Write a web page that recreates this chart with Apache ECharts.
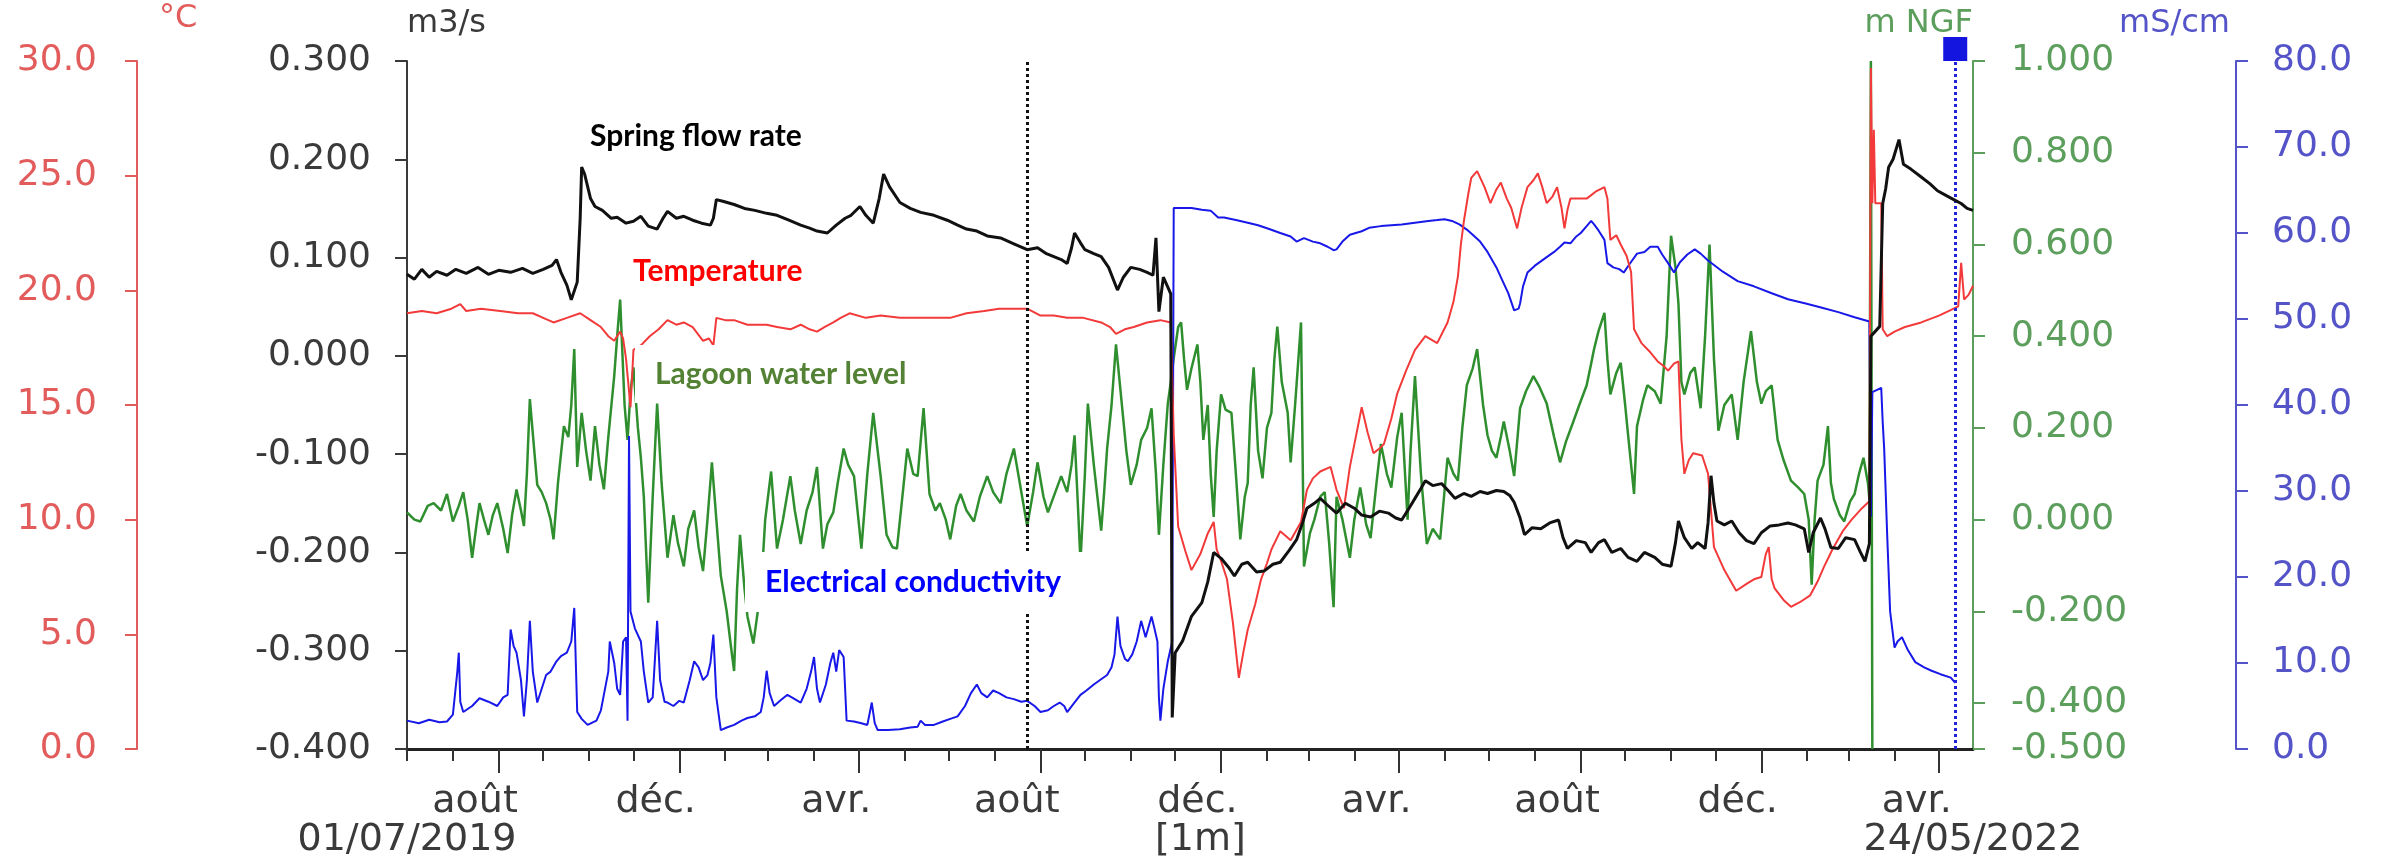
<!DOCTYPE html>
<html><head><meta charset="utf-8">
<script src="https://cdn.jsdelivr.net/npm/echarts@6/dist/echarts.min.js"></script>
<style>html,body{margin:0;padding:0;background:#fff}#c{width:2384px;height:859px}</style>
</head><body><div id="c"></div>
<script>
// x = days since 01/07/2019 (last day 24/05/2022)
const startUTC = Date.UTC(2019, 6, 1);
const endUTC = Date.UTC(2022, 4, 24);
const monthLabels = {8: 'août', 12: 'déc.', 4: 'avr.'};
const edgeLabels = {first: '01/07/2019', middle: '[1m]', last: '24/05/2022'};
const middleLabelDay = 536;
const levelTicks = [-0.5, -0.4, -0.2, 0, 0.2, 0.4, 0.6, 0.8, 1.0];
const dottedBlackDay = 419;
const dottedBlueDay = 1046;

// Spring flow rate (m3/s)
const flow = [[0,0.083],[5,0.078],[10,0.088],[15,0.080],[20,0.086],[27,0.082],[33,0.088],[40,0.084],[48,0.090],[55,0.083],[62,0.087],[70,0.085],[78,0.089],[85,0.084],[92,0.088],[98,0.092],[101,0.098],[104,0.085],[108,0.072],[111,0.057],[115,0.075],[117,0.140],[118,0.192],[120,0.185],[124,0.160],[127,0.152],[132,0.148],[138,0.140],[142,0.141],[148,0.135],[153,0.137],[158,0.142],[163,0.132],[169,0.129],[173,0.140],[176,0.147],[182,0.140],[187,0.142],[193,0.138],[199,0.135],[205,0.133],[207,0.140],[209,0.159],[214,0.157],[221,0.154],[228,0.150],[235,0.148],[243,0.145],[250,0.143],[258,0.138],[266,0.133],[272,0.130],[277,0.127],[284,0.125],[290,0.133],[296,0.140],[300,0.143],[306,0.152],[310,0.143],[315,0.135],[319,0.160],[322,0.185],[326,0.172],[333,0.156],[340,0.150],[347,0.146],[356,0.143],[365,0.138],[372,0.133],[378,0.129],[385,0.127],[392,0.122],[401,0.120],[410,0.114],[419,0.108],[426,0.110],[432,0.104],[437,0.101],[442,0.098],[446,0.094],[449,0.110],[451,0.125],[455,0.115],[458,0.108],[464,0.104],[469,0.101],[474,0.090],[480,0.067],[484,0.080],[489,0.090],[495,0.088],[500,0.085],[504,0.082],[506,0.120],[508,0.045],[511,0.080],[514,0.070],[516,0.063],[517,-0.368],[519,-0.302],[524,-0.290],[530,-0.265],[537,-0.251],[541,-0.230],[545,-0.200],[550,-0.206],[555,-0.215],[559,-0.224],[564,-0.212],[568,-0.210],[574,-0.220],[579,-0.219],[585,-0.212],[590,-0.210],[596,-0.198],[601,-0.187],[605,-0.170],[608,-0.155],[613,-0.150],[617,-0.145],[622,-0.152],[628,-0.160],[634,-0.150],[640,-0.155],[645,-0.162],[651,-0.164],[657,-0.158],[663,-0.160],[668,-0.165],[672,-0.167],[677,-0.155],[681,-0.145],[685,-0.135],[688,-0.127],[693,-0.132],[699,-0.130],[704,-0.138],[708,-0.145],[714,-0.140],[719,-0.143],[725,-0.138],[730,-0.140],[736,-0.137],[741,-0.138],[745,-0.142],[748,-0.149],[752,-0.165],[755,-0.182],[760,-0.175],[766,-0.176],[772,-0.170],[778,-0.167],[781,-0.185],[784,-0.196],[790,-0.188],[796,-0.190],[800,-0.200],[805,-0.190],[809,-0.187],[814,-0.200],[820,-0.196],[825,-0.205],[831,-0.209],[836,-0.200],[843,-0.205],[848,-0.212],[854,-0.214],[857,-0.190],[859,-0.168],[863,-0.185],[868,-0.196],[872,-0.190],[877,-0.196],[879,-0.170],[881,-0.122],[883,-0.150],[885,-0.168],[890,-0.172],[895,-0.168],[900,-0.180],[905,-0.188],[910,-0.191],[915,-0.180],[921,-0.173],[927,-0.172],[933,-0.170],[938,-0.172],[944,-0.176],[947,-0.200],[950,-0.180],[955,-0.165],[958,-0.176],[962,-0.195],[967,-0.196],[972,-0.185],[978,-0.187],[982,-0.200],[985,-0.209],[988,-0.191],[989,0.020],[995,0.030],[997,0.155],[999,0.170],[1001,0.192],[1004,0.200],[1008,0.220],[1011,0.195],[1016,0.190],[1023,0.182],[1029,0.175],[1034,0.168],[1040,0.163],[1045,0.159],[1050,0.155],[1054,0.150],[1058,0.148]];

// Temperature (°C)
const temperature = [[0,19.0],[10,19.1],[20,19.0],[30,19.2],[36,19.4],[40,19.1],[50,19.2],[63,19.1],[75,19.0],[85,19.0],[92,18.8],[99,18.6],[108,18.8],[117,19.0],[124,18.7],[131,18.4],[136,18.0],[140,17.8],[144,18.2],[146,17.9],[148,17.0],[151,14.9],[153,17.4],[158,17.6],[164,18.0],[170,18.3],[176,18.7],[182,18.5],[187,18.6],[193,18.4],[200,17.8],[204,17.9],[207,17.6],[209,18.8],[215,18.7],[221,18.7],[230,18.5],[243,18.5],[250,18.4],[259,18.3],[266,18.5],[272,18.3],[277,18.2],[282,18.4],[288,18.6],[293,18.8],[299,19.0],[310,18.8],[320,18.9],[333,18.8],[345,18.8],[356,18.8],[367,18.8],[378,19.0],[390,19.1],[400,19.2],[410,19.2],[419,19.2],[428,18.9],[437,18.9],[446,18.8],[457,18.8],[469,18.6],[475,18.4],[479,18.1],[485,18.3],[491,18.4],[500,18.6],[509,18.7],[516,18.6],[518,13.7],[521,9.7],[526,8.6],[530,7.8],[536,8.5],[541,9.4],[545,9.9],[547,8.7],[550,8.2],[554,7.4],[558,5.5],[562,3.1],[565,4.2],[568,5.2],[573,6.3],[577,7.4],[581,8.1],[584,8.7],[590,9.5],[597,9.1],[604,9.9],[608,11.3],[612,11.8],[617,12.1],[624,12.3],[628,11.3],[633,10.5],[637,12.3],[641,13.6],[645,14.9],[649,13.8],[653,12.9],[657,13.1],[660,13.3],[665,14.4],[669,15.5],[675,16.5],[681,17.4],[688,18.0],[696,17.7],[703,18.6],[707,19.5],[710,20.6],[712,22.0],[714,23.0],[717,24.2],[719,24.9],[723,25.2],[728,24.5],[732,23.8],[736,24.4],[739,24.7],[743,24.0],[746,23.6],[750,22.7],[753,23.6],[757,24.5],[761,24.8],[764,25.1],[767,24.5],[770,23.8],[774,24.1],[777,24.5],[780,23.6],[782,22.7],[784,23.5],[786,24.0],[790,24.0],[797,24.0],[803,24.3],[809,24.5],[811,24.0],[813,22.2],[817,22.4],[820,22.0],[824,21.5],[827,20.8],[829,18.3],[834,17.7],[840,17.3],[845,16.9],[849,16.7],[852,16.5],[856,16.8],[859,16.9],[861,13.5],[863,12.0],[866,12.6],[869,12.9],[875,12.8],[879,12.0],[883,8.8],[890,7.8],[898,6.9],[905,7.2],[910,7.4],[915,7.5],[918,8.5],[920,8.8],[922,7.4],[924,7.0],[930,6.5],[935,6.2],[941,6.4],[948,6.7],[953,7.3],[957,7.9],[963,8.7],[970,9.5],[976,10.0],[983,10.5],[988,10.8],[989,29.7],[990,23.8],[991,27.0],[992,23.8],[996,23.8],[997,18.3],[1000,18.0],[1005,18.2],[1012,18.4],[1023,18.6],[1035,18.9],[1045,19.2],[1048,19.3],[1050,21.2],[1052,19.6],[1055,19.8],[1058,20.2]];

// Lagoon water level (m NGF)
const waterLevel = [[0,0.016],[5,0.000],[9,-0.004],[14,0.030],[18,0.036],[23,0.020],[27,0.056],[31,-0.004],[35,0.030],[38,0.060],[41,0.000],[44,-0.083],[47,-0.010],[49,0.036],[52,0.000],[55,-0.033],[58,0.010],[61,0.036],[65,-0.020],[68,-0.073],[71,0.010],[74,0.066],[77,0.020],[79,-0.014],[81,0.100],[83,0.263],[86,0.150],[88,0.076],[91,0.060],[94,0.036],[97,0.000],[99,-0.043],[102,0.080],[106,0.204],[109,0.180],[111,0.250],[113,0.372],[115,0.115],[118,0.233],[121,0.150],[124,0.085],[127,0.204],[130,0.120],[133,0.066],[136,0.180],[140,0.313],[142,0.400],[144,0.480],[147,0.250],[149,0.174],[151,0.280],[153,0.332],[156,0.200],[158,0.135],[160,0.050],[163,-0.181],[166,0.050],[169,0.253],[172,0.080],[176,-0.083],[180,0.010],[183,-0.050],[187,-0.102],[190,-0.020],[194,0.020],[197,-0.060],[200,-0.112],[203,0.000],[206,0.125],[209,0.000],[212,-0.122],[216,-0.200],[219,-0.280],[221,-0.330],[223,-0.150],[225,-0.033],[228,-0.150],[230,-0.211],[234,-0.270],[237,-0.200],[239,-0.162],[242,0.000],[246,0.105],[248,0.020],[250,-0.063],[254,0.000],[259,0.095],[262,0.020],[266,-0.053],[270,0.020],[274,0.060],[277,0.115],[281,-0.063],[284,-0.010],[288,0.016],[291,0.080],[295,0.155],[298,0.120],[302,0.095],[305,0.000],[307,-0.063],[311,0.100],[315,0.233],[318,0.150],[320,0.095],[324,-0.033],[328,-0.060],[331,-0.063],[335,0.060],[338,0.155],[342,0.100],[345,0.095],[349,0.243],[351,0.150],[353,0.056],[357,0.020],[360,0.036],[364,0.000],[367,-0.043],[371,0.030],[374,0.056],[378,0.020],[383,-0.004],[387,0.050],[392,0.095],[396,0.060],[401,0.036],[405,0.100],[410,0.155],[414,0.080],[419,-0.014],[423,0.060],[426,0.125],[430,0.050],[433,0.016],[438,0.060],[442,0.095],[446,0.060],[449,0.120],[451,0.184],[453,0.050],[455,-0.092],[458,0.100],[460,0.253],[464,0.120],[469,-0.024],[471,0.060],[473,0.155],[476,0.250],[479,0.382],[482,0.283],[486,0.150],[489,0.076],[493,0.120],[496,0.174],[500,0.200],[503,0.243],[506,0.100],[508,-0.033],[511,0.120],[514,0.253],[516,0.300],[518,0.352],[521,0.420],[523,0.430],[525,0.350],[527,0.283],[530,0.330],[534,0.382],[536,0.300],[538,0.174],[541,0.250],[543,0.100],[545,0.006],[547,0.150],[550,0.273],[553,0.240],[557,0.233],[560,0.100],[563,-0.043],[566,0.050],[568,0.080],[570,0.250],[572,0.332],[575,0.150],[578,0.090],[581,0.200],[584,0.233],[586,0.350],[588,0.421],[591,0.300],[595,0.233],[597,0.125],[600,0.250],[604,0.430],[606,-0.102],[610,-0.030],[613,0.000],[617,0.050],[620,0.060],[623,-0.050],[626,-0.191],[628,0.050],[632,0.000],[637,-0.083],[640,0.000],[644,0.070],[648,-0.010],[651,-0.040],[655,0.080],[658,0.165],[662,0.100],[665,0.070],[669,0.180],[672,0.233],[676,0.000],[678,0.150],[681,0.313],[685,0.100],[689,-0.053],[693,-0.020],[698,-0.043],[703,0.135],[707,0.100],[710,0.085],[713,0.200],[716,0.293],[720,0.330],[723,0.372],[727,0.250],[730,0.184],[733,0.150],[736,0.135],[739,0.180],[741,0.214],[745,0.150],[748,0.095],[752,0.243],[756,0.280],[761,0.313],[765,0.290],[770,0.253],[775,0.180],[779,0.125],[783,0.170],[788,0.214],[792,0.250],[797,0.293],[800,0.340],[802,0.372],[805,0.411],[809,0.451],[811,0.350],[813,0.273],[817,0.320],[820,0.342],[823,0.250],[825,0.184],[829,0.056],[831,0.204],[835,0.260],[838,0.293],[843,0.280],[847,0.253],[851,0.400],[854,0.619],[857,0.550],[859,0.471],[861,0.300],[863,0.273],[867,0.320],[870,0.332],[874,0.243],[877,0.400],[880,0.600],[883,0.350],[886,0.194],[890,0.250],[895,0.273],[899,0.174],[903,0.300],[908,0.411],[912,0.300],[915,0.253],[918,0.280],[922,0.293],[926,0.174],[930,0.130],[935,0.085],[940,0.070],[944,0.056],[947,0.000],[949,-0.142],[951,0.000],[953,0.085],[957,0.120],[960,0.204],[962,0.080],[964,0.045],[968,0.010],[971,-0.004],[975,0.040],[978,0.056],[981,0.100],[984,0.135],[987,0.080],[988,0.045],[989,1.000],[990,-0.500]];

// Electrical conductivity (mS/cm)
const conductivity = [[0,3.3],[8,3.0],[15,3.4],[22,3.1],[27,3.2],[31,4.0],[34,9.0],[35,11.2],[36,5.5],[38,4.3],[44,5.0],[49,5.9],[55,5.5],[61,5.0],[65,6.0],[68,6.3],[70,13.9],[72,12.0],[74,11.2],[77,8.0],[79,3.8],[81,8.0],[83,14.9],[85,9.0],[88,5.4],[91,7.0],[94,8.6],[97,9.0],[101,10.2],[104,10.8],[108,11.2],[111,12.5],[113,16.4],[115,4.3],[118,3.5],[122,2.8],[128,3.3],[131,4.5],[133,6.3],[136,9.0],[137,12.5],[140,10.0],[142,7.0],[144,6.3],[146,12.5],[148,13.0],[149,3.3],[150,36.4],[151,16.0],[154,14.0],[158,12.5],[160,9.0],[163,5.4],[166,6.0],[169,14.9],[171,8.0],[174,5.5],[176,5.4],[180,5.0],[184,5.6],[187,5.4],[191,8.0],[194,10.2],[197,9.5],[200,8.0],[203,8.6],[205,10.0],[207,13.3],[209,6.0],[212,2.2],[216,2.5],[221,2.8],[226,3.3],[230,3.6],[235,3.8],[239,4.3],[241,6.0],[243,9.1],[245,6.5],[248,5.0],[252,5.6],[257,6.3],[262,5.8],[266,5.4],[270,7.0],[273,9.0],[275,10.7],[277,7.0],[279,5.4],[283,7.5],[286,10.0],[288,11.2],[290,9.0],[292,11.5],[295,10.7],[297,3.3],[302,3.2],[307,3.0],[311,2.8],[313,4.5],[314,5.4],[316,3.0],[318,2.2],[325,2.2],[333,2.3],[340,2.5],[345,2.6],[347,3.3],[350,2.8],[356,2.8],[362,3.2],[367,3.5],[372,3.8],[377,5.0],[381,6.5],[385,7.5],[388,6.5],[392,6.0],[396,6.8],[400,6.5],[405,6.0],[410,5.8],[415,5.5],[419,5.6],[424,5.0],[428,4.3],[433,4.5],[437,5.0],[441,5.4],[444,5.0],[446,4.3],[450,5.2],[455,6.3],[459,6.8],[464,7.5],[468,8.0],[473,8.6],[476,9.5],[478,11.0],[480,15.4],[482,12.0],[485,10.5],[487,10.2],[490,11.0],[493,12.5],[496,14.9],[499,13.0],[503,15.4],[505,14.0],[507,12.5],[508,6.0],[509,3.3],[511,7.0],[514,10.2],[517,12.5],[518,62.9],[525,62.9],[530,62.9],[537,62.7],[543,62.6],[548,61.8],[552,61.8],[560,61.5],[568,61.2],[575,60.9],[582,60.5],[590,60.0],[597,59.6],[601,59.0],[606,59.4],[612,59.0],[617,58.8],[622,58.4],[626,58.0],[628,58.1],[632,59.0],[637,59.8],[645,60.2],[650,60.6],[658,60.8],[665,60.9],[672,61.0],[681,61.2],[690,61.4],[696,61.5],[701,61.6],[706,61.4],[711,61.0],[716,60.4],[720,59.8],[725,59.0],[730,57.8],[736,56.0],[740,54.5],[744,53.0],[748,51.0],[751,51.2],[752,51.8],[754,53.8],[757,55.4],[762,56.2],[766,56.7],[770,57.2],[775,57.8],[779,58.4],[782,58.9],[786,58.8],[790,59.6],[793,60.0],[797,60.8],[800,61.4],[802,61.0],[805,60.3],[809,59.2],[811,56.5],[815,56.0],[819,55.8],[822,55.4],[826,56.4],[831,57.6],[836,57.8],[840,58.4],[845,58.4],[848,57.5],[852,56.5],[856,55.4],[860,56.6],[865,57.5],[870,58.1],[874,57.6],[879,56.8],[889,55.5],[899,54.4],[910,53.8],[922,53.0],[933,52.3],[945,51.8],[956,51.3],[967,50.8],[978,50.2],[988,49.7],[989,27.0],[990,41.5],[996,42.0],[997,38.0],[998,34.9],[1000,25.0],[1002,16.0],[1005,11.8],[1007,12.5],[1010,13.0],[1014,11.5],[1019,10.1],[1025,9.5],[1030,9.1],[1036,8.7],[1043,8.3],[1046,7.7]];

const nDays = Math.round((endUTC - startUTC) / 86400000) + 1;
const days = [];
for (let i = 0; i < nDays; i++) days.push(new Date(startUTC + i * 86400000).toISOString().slice(0, 10));

const FONT = 'DejaVu Sans';
const C_FLOW = '#111111', C_TEMP = '#f23a3a', C_LEVEL = '#2f8f2f', C_EC = '#1818e8';
const A_FLOW = '#3a3a3a', A_TEMP = '#e25c5c', A_LEVEL = '#5c9e5c', A_EC = '#5454c8';

function yAx(o) {
  return Object.assign({
    type: 'value', splitLine: {show: false},
    nameLocation: 'end',
    axisLine: {show: true, onZero: false, lineStyle: {color: o.c, width: 2}},
    axisTick: {show: true, length: 12, lineStyle: {color: o.c, width: 2}},
    axisLabel: {color: o.c, fontFamily: FONT, fontSize: 36, margin: o.margin, formatter: o.fmt}
  }, o.extra);
}

const option = {
  animation: false,
  grid: {left: 407, right: 411, top: 61, bottom: 109},
  xAxis: [
    {type: 'value', min: 0, max: nDays - 1, position: 'bottom',
     axisLine: {show: true, onZero: false, lineStyle: {color: '#222', width: 3}},
     axisTick: {show: false}, axisLabel: {show: false}, splitLine: {show: false}},
    {type: 'category', data: days, boundaryGap: false, position: 'bottom',
     axisLine: {show: false, onZero: false},
     axisTick: {show: true, length: 12, lineStyle: {color: '#333', width: 2},
       interval: (i, v) => v.slice(8) === '01'},
     axisLabel: {margin: 34, color: '#3a3a3a', fontFamily: FONT, fontSize: 38,
       interval: (i, v) => v.slice(8) === '16' && !!monthLabels[+v.slice(5, 7)],
       formatter: v => monthLabels[+v.slice(5, 7)] || ''},
     splitLine: {show: false}},
    {type: 'category', data: days, boundaryGap: false, position: 'bottom',
     axisLine: {show: false, onZero: false},
     axisTick: {show: true, length: 24, lineStyle: {color: '#333', width: 2},
       interval: (i, v) => v.slice(8) === '01' && ['01', '05', '09'].includes(v.slice(5, 7))},
     axisLabel: {margin: 72, color: '#3a3a3a', fontFamily: FONT, fontSize: 38,
       interval: i => i === 0 || i === nDays - 1 || i === middleLabelDay,
       formatter: (v, i) => i === 0 ? edgeLabels.first : (i === nDays - 1 ? edgeLabels.last : edgeLabels.middle)},
     splitLine: {show: false}}
  ],
  yAxis: [
    yAx({c: A_FLOW, margin: 36, fmt: v => v.toFixed(3), extra: {
      min: -0.4, max: 0.3, interval: 0.1, position: 'left', offset: 0,
      name: 'm3/s', nameGap: 37,
      nameTextStyle: {color: A_FLOW, fontFamily: FONT, fontSize: 32, align: 'left', verticalAlign: 'middle'}}}),
    yAx({c: A_TEMP, margin: 40, fmt: v => v.toFixed(1), extra: {
      min: 0, max: 30, interval: 5, position: 'left', offset: 270,
      name: '°C', nameGap: 42,
      nameTextStyle: {color: A_TEMP, fontFamily: FONT, fontSize: 32, align: 'left', verticalAlign: 'middle', padding: [0, 0, 0, 22]}}}),
    yAx({c: A_LEVEL, margin: 38, fmt: v => v.toFixed(3), extra: {
      min: -0.5, max: 1.0, position: 'right', offset: 0,
      name: 'm NGF', nameGap: 37,
      nameTextStyle: {color: A_LEVEL, fontFamily: FONT, fontSize: 32, align: 'right', verticalAlign: 'middle'}}}),
    yAx({c: A_EC, margin: 36, fmt: v => v.toFixed(1), extra: {
      min: 0, max: 80, interval: 10, position: 'right', offset: 263,
      name: 'mS/cm', nameGap: 37,
      nameTextStyle: {color: A_EC, fontFamily: FONT, fontSize: 32, align: 'right', verticalAlign: 'middle', padding: [0, 6, 0, 0]}}})
  ],
  series: [
    {name: 'Lagoon water level', type: 'line', xAxisIndex: 0, yAxisIndex: 2, data: waterLevel,
     symbol: 'none', lineStyle: {color: C_LEVEL, width: 2.5}, z: 2},
    {name: 'Electrical conductivity', type: 'line', xAxisIndex: 0, yAxisIndex: 3, data: conductivity,
     symbol: 'none', lineStyle: {color: C_EC, width: 2}, z: 3,
     markLine: {silent: true, symbol: ['none', 'none'], label: {show: false},
       lineStyle: {color: '#2222dd', type: 'dotted', width: 3},
       data: [{xAxis: dottedBlueDay}]},
     markPoint: {silent: true, label: {show: false},
       data: [{coord: [dottedBlueDay, 80], symbol: 'rect', symbolSize: 24, symbolOffset: [0, -12],
         itemStyle: {color: '#1515e0'}}]}},
    {name: 'Temperature', type: 'line', xAxisIndex: 0, yAxisIndex: 1, data: temperature,
     symbol: 'none', lineStyle: {color: C_TEMP, width: 2}, z: 4},
    {name: 'Spring flow rate', type: 'line', xAxisIndex: 0, yAxisIndex: 0, data: flow,
     symbol: 'none', lineStyle: {color: C_FLOW, width: 3}, z: 5,
     markLine: {silent: true, symbol: ['none', 'none'], label: {show: false},
       lineStyle: {color: '#111', type: 'dotted', width: 3},
       data: [{xAxis: dottedBlackDay}]}}
  ],
  graphic: [
    {type: 'text', left: 590, top: 121, z: 100,
     style: {text: 'Spring flow rate', fill: '#000', font: 'bold 30px Lato'}},
    {type: 'text', left: 633, top: 256, z: 100,
     style: {text: 'Temperature', fill: '#ff0000', font: 'bold 30px Lato'}},
    {type: 'text', left: 635, top: 345, z: 100,
     style: {text: 'Lagoon water level', fill: '#548235', font: 'bold 30px Lato',
       backgroundColor: '#fff', padding: [14, 24, 14, 20], lineHeight: 30}},
    {type: 'text', left: 745, top: 552, z: 100,
     style: {text: 'Electrical conductivity', fill: '#0000ff', font: 'bold 30px Lato',
       backgroundColor: '#fff', padding: [15, 23, 15, 20], lineHeight: 30}}
  ]
};
option.yAxis[2].axisLabel.customValues = levelTicks;
option.yAxis[2].axisTick.customValues = levelTicks;

const chart = echarts.init(document.getElementById('c'), null, {renderer: 'canvas'});
chart.setOption(option);
</script>
</body></html>
